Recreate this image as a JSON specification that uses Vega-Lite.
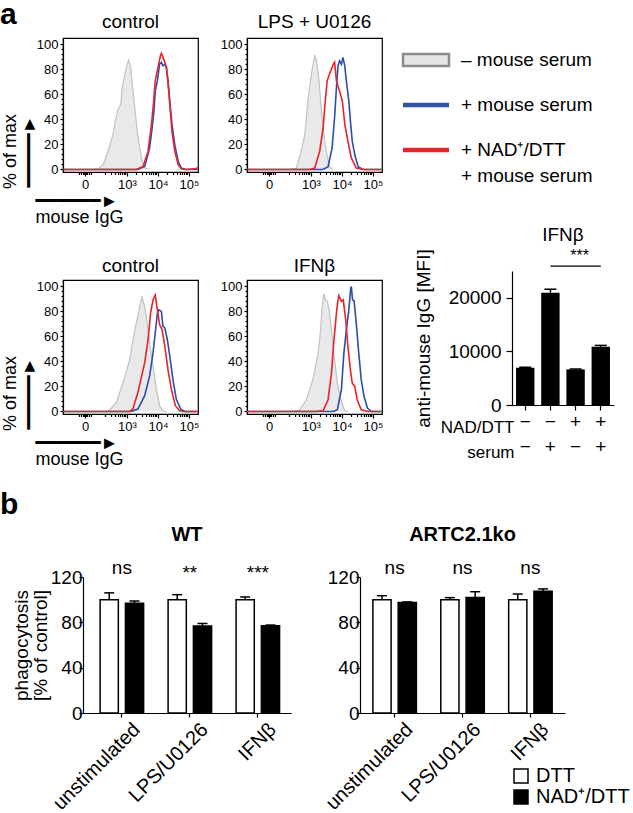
{
 "$schema": "https://vega.github.io/schema/vega-lite/v6.json",
 "background": "white",
 "padding": 0,
 "spacing": 21,
 "config": {
  "view": {"stroke": null},
  "font": "Liberation Sans",
  "axis": {"labelFont": "Liberation Sans", "titleFont": "Liberation Sans", "labelColor": "black", "titleColor": "black", "domainColor": "black", "tickColor": "black", "titleFontWeight": "normal", "grid": false, "domainWidth": 1.2, "tickWidth": 1.2, "labelOverlap": false, "labelSeparation": -30},
  "title": {"font": "Liberation Sans", "color": "black", "fontWeight": "normal", "fontSize": 19},
  "legend": {"labelFont": "Liberation Sans", "labelColor": "black"},
  "text": {"font": "Liberation Sans", "color": "black"}
 },
 "datasets": {
  "hist": [
   {"panel":"H1","series":"neg","log":1.85,"pct":0},{"panel":"H1","series":"neg","log":2.06,"pct":0.5},{"panel":"H1","series":"neg","log":2.23,"pct":3.9},{"panel":"H1","series":"neg","log":2.39,"pct":14.6},{"panel":"H1","series":"neg","log":2.55,"pct":28},{"panel":"H1","series":"neg","log":2.62,"pct":38.7},{"panel":"H1","series":"neg","log":2.71,"pct":48},{"panel":"H1","series":"neg","log":2.8,"pct":52},{"panel":"H1","series":"neg","log":2.84,"pct":65.4},{"panel":"H1","series":"neg","log":2.92,"pct":74.8},{"panel":"H1","series":"neg","log":2.98,"pct":81.5},{"panel":"H1","series":"neg","log":3.05,"pct":87.3},{"panel":"H1","series":"neg","log":3.12,"pct":81.5},{"panel":"H1","series":"neg","log":3.17,"pct":68.1},{"panel":"H1","series":"neg","log":3.25,"pct":49.4},{"panel":"H1","series":"neg","log":3.33,"pct":30.6},{"panel":"H1","series":"neg","log":3.41,"pct":17.3},{"panel":"H1","series":"neg","log":3.49,"pct":6.6},{"panel":"H1","series":"neg","log":3.59,"pct":0.8},{"panel":"H1","series":"neg","log":3.73,"pct":0},
   {"panel":"H1","series":"pos","log":0.94,"pct":0},{"panel":"H1","series":"pos","log":3.35,"pct":0},{"panel":"H1","series":"pos","log":3.57,"pct":2.5},{"panel":"H1","series":"pos","log":3.73,"pct":17.3},{"panel":"H1","series":"pos","log":3.81,"pct":33.3},{"panel":"H1","series":"pos","log":3.87,"pct":46.7},{"panel":"H1","series":"pos","log":3.91,"pct":62.7},{"panel":"H1","series":"pos","log":3.98,"pct":70.8},{"panel":"H1","series":"pos","log":4.05,"pct":84.1},{"panel":"H1","series":"pos","log":4.11,"pct":85.5},{"panel":"H1","series":"pos","log":4.16,"pct":82.8},{"panel":"H1","series":"pos","log":4.22,"pct":84.1},{"panel":"H1","series":"pos","log":4.27,"pct":81.5},{"panel":"H1","series":"pos","log":4.32,"pct":70.8},{"panel":"H1","series":"pos","log":4.38,"pct":54.7},{"panel":"H1","series":"pos","log":4.45,"pct":36},{"panel":"H1","series":"pos","log":4.54,"pct":19.9},{"panel":"H1","series":"pos","log":4.65,"pct":6.6},{"panel":"H1","series":"pos","log":4.75,"pct":1.2},{"panel":"H1","series":"pos","log":4.91,"pct":0},{"panel":"H1","series":"pos","log":5.28,"pct":0},
   {"panel":"H1","series":"nad","log":0.94,"pct":0},{"panel":"H1","series":"nad","log":3.3,"pct":0},{"panel":"H1","series":"nad","log":3.52,"pct":2.5},{"panel":"H1","series":"nad","log":3.68,"pct":14.6},{"panel":"H1","series":"nad","log":3.79,"pct":36},{"panel":"H1","series":"nad","log":3.86,"pct":54.7},{"panel":"H1","series":"nad","log":3.91,"pct":70.8},{"panel":"H1","series":"nad","log":4.0,"pct":81.5},{"panel":"H1","series":"nad","log":4.08,"pct":91.1},{"panel":"H1","series":"nad","log":4.11,"pct":92.7},{"panel":"H1","series":"nad","log":4.16,"pct":89.5},{"panel":"H1","series":"nad","log":4.22,"pct":85.7},{"panel":"H1","series":"nad","log":4.27,"pct":81.5},{"panel":"H1","series":"nad","log":4.32,"pct":70.8},{"panel":"H1","series":"nad","log":4.38,"pct":52},{"panel":"H1","series":"nad","log":4.45,"pct":30.6},{"panel":"H1","series":"nad","log":4.54,"pct":14.6},{"panel":"H1","series":"nad","log":4.65,"pct":3.9},{"panel":"H1","series":"nad","log":4.75,"pct":0.5},{"panel":"H1","series":"nad","log":4.86,"pct":0},{"panel":"H1","series":"nad","log":5.18,"pct":0.5},{"panel":"H1","series":"nad","log":5.28,"pct":1.5},
   {"panel":"H2","series":"neg","log":2.31,"pct":0},{"panel":"H2","series":"neg","log":2.53,"pct":1.2},{"panel":"H2","series":"neg","log":2.71,"pct":17.3},{"panel":"H2","series":"neg","log":2.8,"pct":28},{"panel":"H2","series":"neg","log":2.9,"pct":54.7},{"panel":"H2","series":"neg","log":3.01,"pct":76.1},{"panel":"H2","series":"neg","log":3.12,"pct":90.8},{"panel":"H2","series":"neg","log":3.17,"pct":87.9},{"panel":"H2","series":"neg","log":3.25,"pct":73.4},{"panel":"H2","series":"neg","log":3.31,"pct":54.7},{"panel":"H2","series":"neg","log":3.39,"pct":33.3},{"panel":"H2","series":"neg","log":3.49,"pct":14.6},{"panel":"H2","series":"neg","log":3.6,"pct":2.3},{"panel":"H2","series":"neg","log":3.71,"pct":0},
   {"panel":"H2","series":"nad","log":0.94,"pct":0},{"panel":"H2","series":"nad","log":2.96,"pct":0},{"panel":"H2","series":"nad","log":3.12,"pct":1.2},{"panel":"H2","series":"nad","log":3.28,"pct":14.6},{"panel":"H2","series":"nad","log":3.39,"pct":33.3},{"panel":"H2","series":"nad","log":3.46,"pct":54.7},{"panel":"H2","series":"nad","log":3.52,"pct":70.8},{"panel":"H2","series":"nad","log":3.58,"pct":75},{"panel":"H2","series":"nad","log":3.66,"pct":80.4},{"panel":"H2","series":"nad","log":3.72,"pct":84.1},{"panel":"H2","series":"nad","log":3.76,"pct":85.7},{"panel":"H2","series":"nad","log":3.82,"pct":70.8},{"panel":"H2","series":"nad","log":3.87,"pct":66.5},{"panel":"H2","series":"nad","log":3.92,"pct":62.7},{"panel":"H2","series":"nad","log":4.01,"pct":54.7},{"panel":"H2","series":"nad","log":4.09,"pct":36},{"panel":"H2","series":"nad","log":4.19,"pct":22.6},{"panel":"H2","series":"nad","log":4.3,"pct":9.2},{"panel":"H2","series":"nad","log":4.46,"pct":1.2},{"panel":"H2","series":"nad","log":4.68,"pct":0},{"panel":"H2","series":"nad","log":5.28,"pct":0},
   {"panel":"H2","series":"pos","log":0.94,"pct":0},{"panel":"H2","series":"pos","log":3.39,"pct":0},{"panel":"H2","series":"pos","log":3.55,"pct":2.3},{"panel":"H2","series":"pos","log":3.68,"pct":17.3},{"panel":"H2","series":"pos","log":3.76,"pct":41.3},{"panel":"H2","series":"pos","log":3.82,"pct":65.4},{"panel":"H2","series":"pos","log":3.87,"pct":82.5},{"panel":"H2","series":"pos","log":3.92,"pct":86.8},{"panel":"H2","series":"pos","log":3.98,"pct":84.1},{"panel":"H2","series":"pos","log":4.03,"pct":89.5},{"panel":"H2","series":"pos","log":4.09,"pct":82.5},{"panel":"H2","series":"pos","log":4.14,"pct":70.8},{"panel":"H2","series":"pos","log":4.22,"pct":54.7},{"panel":"H2","series":"pos","log":4.28,"pct":36},{"panel":"H2","series":"pos","log":4.33,"pct":22.6},{"panel":"H2","series":"pos","log":4.41,"pct":11.9},{"panel":"H2","series":"pos","log":4.52,"pct":2.3},{"panel":"H2","series":"pos","log":4.68,"pct":0},{"panel":"H2","series":"pos","log":5.28,"pct":0},
   {"panel":"H3","series":"neg","log":2.39,"pct":0},{"panel":"H3","series":"neg","log":2.66,"pct":7.2},{"panel":"H3","series":"neg","log":2.87,"pct":23.1},{"panel":"H3","series":"neg","log":3.09,"pct":41.5},{"panel":"H3","series":"neg","log":3.19,"pct":57.5},{"panel":"H3","series":"neg","log":3.3,"pct":70.7},{"panel":"H3","series":"neg","log":3.39,"pct":81.2},{"panel":"H3","series":"neg","log":3.48,"pct":92},{"panel":"H3","series":"neg","log":3.57,"pct":83.6},{"panel":"H3","series":"neg","log":3.65,"pct":70.7},{"panel":"H3","series":"neg","log":3.73,"pct":54.7},{"panel":"H3","series":"neg","log":3.84,"pct":36.3},{"panel":"H3","series":"neg","log":3.95,"pct":17.8},{"panel":"H3","series":"neg","log":4.05,"pct":4.6},{"panel":"H3","series":"neg","log":4.16,"pct":0.5},{"panel":"H3","series":"neg","log":4.27,"pct":0},
   {"panel":"H3","series":"pos","log":0.94,"pct":0},{"panel":"H3","series":"pos","log":3.14,"pct":0},{"panel":"H3","series":"pos","log":3.35,"pct":2},{"panel":"H3","series":"pos","log":3.57,"pct":12.6},{"panel":"H3","series":"pos","log":3.73,"pct":28.4},{"panel":"H3","series":"pos","log":3.84,"pct":46.9},{"panel":"H3","series":"pos","log":3.91,"pct":62.7},{"panel":"H3","series":"pos","log":3.98,"pct":78.6},{"panel":"H3","series":"pos","log":4.03,"pct":81.2},{"panel":"H3","series":"pos","log":4.11,"pct":79.9},{"panel":"H3","series":"pos","log":4.16,"pct":68},{"panel":"H3","series":"pos","log":4.22,"pct":66.7},{"panel":"H3","series":"pos","log":4.3,"pct":57.5},{"panel":"H3","series":"pos","log":4.38,"pct":44.2},{"panel":"H3","series":"pos","log":4.48,"pct":25.7},{"panel":"H3","series":"pos","log":4.59,"pct":9.9},{"panel":"H3","series":"pos","log":4.73,"pct":2},{"panel":"H3","series":"pos","log":4.86,"pct":0},{"panel":"H3","series":"pos","log":5.28,"pct":0},
   {"panel":"H3","series":"nad","log":0.94,"pct":0},{"panel":"H3","series":"nad","log":3.09,"pct":0},{"panel":"H3","series":"nad","log":3.19,"pct":2},{"panel":"H3","series":"nad","log":3.35,"pct":15.1},{"panel":"H3","series":"nad","log":3.57,"pct":39},{"panel":"H3","series":"nad","log":3.68,"pct":57.5},{"panel":"H3","series":"nad","log":3.76,"pct":78.6},{"panel":"H3","series":"nad","log":3.84,"pct":89.2},{"panel":"H3","series":"nad","log":3.91,"pct":93},{"panel":"H3","series":"nad","log":3.98,"pct":81.2},{"panel":"H3","series":"nad","log":4.05,"pct":69.4},{"panel":"H3","series":"nad","log":4.13,"pct":65.4},{"panel":"H3","series":"nad","log":4.22,"pct":52.1},{"panel":"H3","series":"nad","log":4.32,"pct":33.6},{"panel":"H3","series":"nad","log":4.43,"pct":17.8},{"panel":"H3","series":"nad","log":4.56,"pct":4.6},{"panel":"H3","series":"nad","log":4.7,"pct":0.5},{"panel":"H3","series":"nad","log":4.81,"pct":0},{"panel":"H3","series":"nad","log":5.28,"pct":0},
   {"panel":"H4","series":"neg","log":2.42,"pct":0},{"panel":"H4","series":"neg","log":2.63,"pct":1.4},{"panel":"H4","series":"neg","log":2.85,"pct":9.4},{"panel":"H4","series":"neg","log":3.06,"pct":25.4},{"panel":"H4","series":"neg","log":3.23,"pct":46.6},{"panel":"H4","series":"neg","log":3.31,"pct":65.2},{"panel":"H4","series":"neg","log":3.35,"pct":81.1},{"panel":"H4","series":"neg","log":3.41,"pct":94},{"panel":"H4","series":"neg","log":3.47,"pct":89.1},{"panel":"H4","series":"neg","log":3.53,"pct":87.8},{"panel":"H4","series":"neg","log":3.6,"pct":78.5},{"panel":"H4","series":"neg","log":3.68,"pct":59.8},{"panel":"H4","series":"neg","log":3.76,"pct":41.2},{"panel":"H4","series":"neg","log":3.85,"pct":22.7},{"panel":"H4","series":"neg","log":3.96,"pct":9.4},{"panel":"H4","series":"neg","log":4.09,"pct":0.5},{"panel":"H4","series":"neg","log":4.19,"pct":0},
   {"panel":"H4","series":"pos","log":0.94,"pct":0},{"panel":"H4","series":"pos","log":3.71,"pct":0},{"panel":"H4","series":"pos","log":3.85,"pct":1.4},{"panel":"H4","series":"pos","log":3.98,"pct":17.4},{"panel":"H4","series":"pos","log":4.06,"pct":46.6},{"panel":"H4","series":"pos","log":4.14,"pct":65.2},{"panel":"H4","series":"pos","log":4.22,"pct":81.1},{"panel":"H4","series":"pos","log":4.28,"pct":98.4},{"panel":"H4","series":"pos","log":4.3,"pct":99.7},{"panel":"H4","series":"pos","log":4.34,"pct":89.1},{"panel":"H4","series":"pos","log":4.39,"pct":88.5},{"panel":"H4","series":"pos","log":4.46,"pct":70.4},{"panel":"H4","series":"pos","log":4.54,"pct":46.6},{"panel":"H4","series":"pos","log":4.62,"pct":25.4},{"panel":"H4","series":"pos","log":4.71,"pct":12.1},{"panel":"H4","series":"pos","log":4.82,"pct":2.8},{"panel":"H4","series":"pos","log":4.95,"pct":0},{"panel":"H4","series":"pos","log":5.28,"pct":0},
   {"panel":"H4","series":"nad","log":0.94,"pct":0},{"panel":"H4","series":"nad","log":3.12,"pct":0},{"panel":"H4","series":"nad","log":3.39,"pct":0.5},{"panel":"H4","series":"nad","log":3.55,"pct":9.4},{"panel":"H4","series":"nad","log":3.66,"pct":30.6},{"panel":"H4","series":"nad","log":3.74,"pct":57.2},{"panel":"H4","series":"nad","log":3.82,"pct":78.5},{"panel":"H4","series":"nad","log":3.87,"pct":89.1},{"panel":"H4","series":"nad","log":3.9,"pct":92.5},{"panel":"H4","series":"nad","log":3.98,"pct":87.8},{"panel":"H4","series":"nad","log":4.04,"pct":89.1},{"panel":"H4","series":"nad","log":4.12,"pct":73.1},{"panel":"H4","series":"nad","log":4.19,"pct":51.9},{"panel":"H4","series":"nad","log":4.27,"pct":33.3},{"panel":"H4","series":"nad","log":4.33,"pct":22.7},{"panel":"H4","series":"nad","log":4.41,"pct":20},{"panel":"H4","series":"nad","log":4.49,"pct":9.4},{"panel":"H4","series":"nad","log":4.62,"pct":1.4},{"panel":"H4","series":"nad","log":4.84,"pct":0},{"panel":"H4","series":"nad","log":5.28,"pct":0}
  ],
  "leg": [
   {"key":"neg","label":"– mouse serum"},
   {"key":"pos","label":"+ mouse serum"},
   {"key":"nad","label":"+ NAD⁺/DTT\n+ mouse serum"}
  ],
  "mfi": [
   {"cond":"−|−","mfi":6950,"hi":7050},
   {"cond":"−|+","mfi":20950,"hi":21600},
   {"cond":"+|−","mfi":6640,"hi":6700},
   {"cond":"+|+","mfi":10880,"hi":11120}
  ],
  "phago": [
   {"geno":"WT","stim":"unstimulated","treat":"DTT","val":100,"hi":106},
   {"geno":"WT","stim":"unstimulated","treat":"NAD⁺/DTT","val":96.8,"hi":98.8},
   {"geno":"WT","stim":"LPS/U0126","treat":"DTT","val":100,"hi":104.4},
   {"geno":"WT","stim":"LPS/U0126","treat":"NAD⁺/DTT","val":76.7,"hi":79},
   {"geno":"WT","stim":"IFNβ","treat":"DTT","val":100,"hi":102.4},
   {"geno":"WT","stim":"IFNβ","treat":"NAD⁺/DTT","val":77,"hi":77.6},
   {"geno":"ARTC","stim":"unstimulated","treat":"DTT","val":100,"hi":103.5},
   {"geno":"ARTC","stim":"unstimulated","treat":"NAD⁺/DTT","val":97.5,"hi":98},
   {"geno":"ARTC","stim":"LPS/U0126","treat":"DTT","val":100,"hi":101.8},
   {"geno":"ARTC","stim":"LPS/U0126","treat":"NAD⁺/DTT","val":102,"hi":107},
   {"geno":"ARTC","stim":"IFNβ","treat":"DTT","val":100,"hi":105},
   {"geno":"ARTC","stim":"IFNβ","treat":"NAD⁺/DTT","val":107.5,"hi":109.5}
  ]
 },
 "vconcat": [
  {"spacing": -17, "hconcat": [
   {"width": 1, "height": 1, "data": {"values": []}, "mark": "point",
    "title": {"text": "a", "fontSize": 30, "fontWeight": "bold", "anchor": "start", "offset": -16, "baseline": "alphabetic"}},
   {"spacing": -2, "vconcat": [
    {"spacing": 8, "hconcat": [
     {"spacing": 17, "hconcat": [
      {"width": 135, "height": 134, "view": {"stroke": "black", "strokeWidth": 1.2},
       "title": {"text": "control", "fontSize": 19, "offset": -9, "baseline": "alphabetic"},
       "data": {"name": "hist"}, "transform": [{"filter": "datum.panel === 'H1'"}],
       "resolve": {"axis": {"x": "independent", "y": "independent"}},
       "layer": [
        {"transform": [{"filter": "datum.series === 'neg'"}], "mark": {"type": "area", "color": "#e9e9e9", "opacity": 1, "line": {"color": "#c2c2c2", "strokeWidth": 1.2}},
         "encoding": {
          "x": {"field": "log", "type": "quantitative", "scale": {"domain": [0.935, 5.29], "nice": false, "zero": false},
                "axis": {"orient": "bottom", "values": [1.645, 3, 4, 5], "labelExpr": "datum.value < 2 ? '0' : datum.value < 3.5 ? '10³' : datum.value < 4.5 ? '10⁴' : '10⁵'", "labelFontSize": 13, "labelPadding": 2, "tickSize": 4, "labelFlush": false,
                         "title": ["━━━━━━►", "mouse IgG"], "titleFontSize": 18, "titleFont": "Liberation Sans, DejaVu Sans", "titleAlign": "left", "titleX": -28, "titleY": 34, "titleBaseline": "alphabetic", "titleLineHeight": 16}},
          "y": {"field": "pct", "type": "quantitative", "scale": {"domain": [-2, 105], "nice": false, "zero": false},
                "axis": {"orient": "left", "values": [0, 20, 40, 60, 80, 100], "labelFontSize": 13, "labelPadding": 2, "tickSize": 3,
                         "title": ["% of max", "━━━━━►"], "titleFontSize": 18, "titleFont": "Liberation Sans, DejaVu Sans", "titleAlign": "center", "titleAngle": -90, "titleX": -48, "titleY": 113, "titleBaseline": "alphabetic", "titleLineHeight": 19}},
          "y2": {"datum": 0}}},
        {"transform": [{"filter": "datum.series === 'pos'"}], "mark": {"type": "line", "color": "#2b4fa8", "strokeWidth": 1.6},
         "encoding": {
          "x": {"field": "log", "type": "quantitative", "scale": {"domain": [0.935, 5.29], "nice": false, "zero": false},
                "axis": {"orient": "bottom", "values": [1.45,1.52,1.58,1.62,1.67,1.71,1.77,1.84,2.3,2.48,2.6,2.7,2.78,2.85,2.9,2.95,3.3,3.48,3.6,3.7,3.78,3.85,3.9,3.95,4.3,4.48,4.6,4.7,4.78,4.85,4.9,4.95], "labels": false, "domain": false, "tickSize": 2.5, "title": null}},
          "y": {"field": "pct", "type": "quantitative", "scale": {"domain": [-2, 105], "nice": false, "zero": false},
                "axis": {"orient": "left", "values": [4,8,12,16,24,28,32,36,44,48,52,56,64,68,72,76,84,88,92,96], "labels": false, "domain": false, "tickSize": 2, "title": null}}}},
        {"transform": [{"filter": "datum.series === 'nad'"}], "mark": {"type": "line", "color": "#e8232b", "strokeWidth": 1.6},
         "encoding": {
          "x": {"field": "log", "type": "quantitative", "scale": {"domain": [0.935, 5.29], "nice": false, "zero": false}, "axis": null},
          "y": {"field": "pct", "type": "quantitative", "scale": {"domain": [-2, 105], "nice": false, "zero": false}, "axis": null}}}
       ]},
      {"width": 135, "height": 134, "view": {"stroke": "black", "strokeWidth": 1.2},
       "title": {"text": "LPS + U0126", "fontSize": 19, "offset": -9, "baseline": "alphabetic"},
       "data": {"name": "hist"}, "transform": [{"filter": "datum.panel === 'H2'"}],
       "resolve": {"axis": {"x": "independent", "y": "independent"}},
       "layer": [
        {"transform": [{"filter": "datum.series === 'neg'"}], "mark": {"type": "area", "color": "#e9e9e9", "opacity": 1, "line": {"color": "#c2c2c2", "strokeWidth": 1.2}},
         "encoding": {
          "x": {"field": "log", "type": "quantitative", "scale": {"domain": [0.935, 5.29], "nice": false, "zero": false},
                "axis": {"orient": "bottom", "values": [1.645, 3, 4, 5], "labelExpr": "datum.value < 2 ? '0' : datum.value < 3.5 ? '10³' : datum.value < 4.5 ? '10⁴' : '10⁵'", "labelFontSize": 13, "labelPadding": 2, "tickSize": 4, "labelFlush": false, "title": null}},
          "y": {"field": "pct", "type": "quantitative", "scale": {"domain": [-2, 105], "nice": false, "zero": false},
                "axis": {"orient": "left", "values": [0, 20, 40, 60, 80, 100], "labelFontSize": 13, "labelPadding": 2, "tickSize": 3, "title": null}},
          "y2": {"datum": 0}}},
        {"transform": [{"filter": "datum.series === 'pos'"}], "mark": {"type": "line", "color": "#2b4fa8", "strokeWidth": 1.6},
         "encoding": {
          "x": {"field": "log", "type": "quantitative", "scale": {"domain": [0.935, 5.29], "nice": false, "zero": false},
                "axis": {"orient": "bottom", "values": [1.45,1.52,1.58,1.62,1.67,1.71,1.77,1.84,2.3,2.48,2.6,2.7,2.78,2.85,2.9,2.95,3.3,3.48,3.6,3.7,3.78,3.85,3.9,3.95,4.3,4.48,4.6,4.7,4.78,4.85,4.9,4.95], "labels": false, "domain": false, "tickSize": 2.5, "title": null}},
          "y": {"field": "pct", "type": "quantitative", "scale": {"domain": [-2, 105], "nice": false, "zero": false},
                "axis": {"orient": "left", "values": [4,8,12,16,24,28,32,36,44,48,52,56,64,68,72,76,84,88,92,96], "labels": false, "domain": false, "tickSize": 2, "title": null}}}},
        {"transform": [{"filter": "datum.series === 'nad'"}], "mark": {"type": "line", "color": "#e8232b", "strokeWidth": 1.6},
         "encoding": {
          "x": {"field": "log", "type": "quantitative", "scale": {"domain": [0.935, 5.29], "nice": false, "zero": false}, "axis": null},
          "y": {"field": "pct", "type": "quantitative", "scale": {"domain": [-2, 105], "nice": false, "zero": false}, "axis": null}}}
       ]}
     ]},
     {"width": 46, "height": 134, "data": {"name": "leg"},
      "encoding": {"y": {"field": "key", "type": "nominal", "scale": {"type": "point", "domain": ["neg", "pos", "nad"], "padding": 0.49}, "axis": null}},
      "layer": [
       {"transform": [{"filter": "datum.key === 'neg'"}], "mark": {"type": "point", "shape": "M-1,-0.26L1,-0.26L1,0.26L-1,0.26Z", "size": 2116, "filled": true, "fill": "#e6e6e6", "stroke": "#8c8c8c", "strokeWidth": 2.5, "opacity": 1}},
       {"transform": [{"filter": "datum.key !== 'neg'"}], "mark": {"type": "point", "shape": "stroke", "size": 2116, "filled": false, "strokeWidth": 4.5, "opacity": 1},
        "encoding": {"stroke": {"field": "key", "type": "nominal", "scale": {"domain": ["pos", "nad"], "range": ["#3552a3", "#e3262b"]}, "legend": null}}},
       {"mark": {"type": "text", "align": "left", "dx": 35, "fontSize": 19, "lineBreak": "\n", "lineHeight": 26, "baseline": "middle", "color": "black"},
        "encoding": {"text": {"field": "label"}}}
      ]}
    ]},
    {"spacing": 28, "hconcat": [
     {"spacing": -16, "vconcat": [
      {"width": 1, "height": 1, "data": {"values": []}, "mark": "point"},
      {"spacing": 17, "hconcat": [
       {"width": 135, "height": 134, "view": {"stroke": "black", "strokeWidth": 1.2},
        "title": {"text": "control", "fontSize": 19, "offset": -11, "baseline": "alphabetic"},
        "data": {"name": "hist"}, "transform": [{"filter": "datum.panel === 'H3'"}],
        "resolve": {"axis": {"x": "independent", "y": "independent"}},
        "layer": [
         {"transform": [{"filter": "datum.series === 'neg'"}], "mark": {"type": "area", "color": "#e9e9e9", "opacity": 1, "line": {"color": "#c2c2c2", "strokeWidth": 1.2}},
          "encoding": {
           "x": {"field": "log", "type": "quantitative", "scale": {"domain": [0.935, 5.29], "nice": false, "zero": false},
                 "axis": {"orient": "bottom", "values": [1.645, 3, 4, 5], "labelExpr": "datum.value < 2 ? '0' : datum.value < 3.5 ? '10³' : datum.value < 4.5 ? '10⁴' : '10⁵'", "labelFontSize": 13, "labelPadding": 2, "tickSize": 4, "labelFlush": false,
                          "title": ["━━━━━━►", "mouse IgG"], "titleFontSize": 18, "titleFont": "Liberation Sans, DejaVu Sans", "titleAlign": "left", "titleX": -28, "titleY": 34, "titleBaseline": "alphabetic", "titleLineHeight": 16}},
           "y": {"field": "pct", "type": "quantitative", "scale": {"domain": [-2, 105], "nice": false, "zero": false},
                 "axis": {"orient": "left", "values": [0, 20, 40, 60, 80, 100], "labelFontSize": 13, "labelPadding": 2, "tickSize": 3,
                          "title": ["% of max", "━━━━━►"], "titleFontSize": 18, "titleFont": "Liberation Sans, DejaVu Sans", "titleAlign": "center", "titleAngle": -90, "titleX": -48, "titleY": 113, "titleBaseline": "alphabetic", "titleLineHeight": 19}},
           "y2": {"datum": 0}}},
         {"transform": [{"filter": "datum.series === 'pos'"}], "mark": {"type": "line", "color": "#2b4fa8", "strokeWidth": 1.6},
          "encoding": {
           "x": {"field": "log", "type": "quantitative", "scale": {"domain": [0.935, 5.29], "nice": false, "zero": false},
                 "axis": {"orient": "bottom", "values": [1.45,1.52,1.58,1.62,1.67,1.71,1.77,1.84,2.3,2.48,2.6,2.7,2.78,2.85,2.9,2.95,3.3,3.48,3.6,3.7,3.78,3.85,3.9,3.95,4.3,4.48,4.6,4.7,4.78,4.85,4.9,4.95], "labels": false, "domain": false, "tickSize": 2.5, "title": null}},
           "y": {"field": "pct", "type": "quantitative", "scale": {"domain": [-2, 105], "nice": false, "zero": false},
                 "axis": {"orient": "left", "values": [4,8,12,16,24,28,32,36,44,48,52,56,64,68,72,76,84,88,92,96], "labels": false, "domain": false, "tickSize": 2, "title": null}}}},
         {"transform": [{"filter": "datum.series === 'nad'"}], "mark": {"type": "line", "color": "#e8232b", "strokeWidth": 1.6},
          "encoding": {
           "x": {"field": "log", "type": "quantitative", "scale": {"domain": [0.935, 5.29], "nice": false, "zero": false}, "axis": null},
           "y": {"field": "pct", "type": "quantitative", "scale": {"domain": [-2, 105], "nice": false, "zero": false}, "axis": null}}}
        ]},
       {"width": 135, "height": 134, "view": {"stroke": "black", "strokeWidth": 1.2},
        "title": {"text": "IFNβ", "fontSize": 19, "offset": -11, "baseline": "alphabetic"},
        "data": {"name": "hist"}, "transform": [{"filter": "datum.panel === 'H4'"}],
        "resolve": {"axis": {"x": "independent", "y": "independent"}},
        "layer": [
         {"transform": [{"filter": "datum.series === 'neg'"}], "mark": {"type": "area", "color": "#e9e9e9", "opacity": 1, "line": {"color": "#c2c2c2", "strokeWidth": 1.2}},
          "encoding": {
           "x": {"field": "log", "type": "quantitative", "scale": {"domain": [0.935, 5.29], "nice": false, "zero": false},
                 "axis": {"orient": "bottom", "values": [1.645, 3, 4, 5], "labelExpr": "datum.value < 2 ? '0' : datum.value < 3.5 ? '10³' : datum.value < 4.5 ? '10⁴' : '10⁵'", "labelFontSize": 13, "labelPadding": 2, "tickSize": 4, "labelFlush": false, "title": null}},
           "y": {"field": "pct", "type": "quantitative", "scale": {"domain": [-2, 105], "nice": false, "zero": false},
                 "axis": {"orient": "left", "values": [0, 20, 40, 60, 80, 100], "labelFontSize": 13, "labelPadding": 2, "tickSize": 3, "title": null}},
           "y2": {"datum": 0}}},
         {"transform": [{"filter": "datum.series === 'pos'"}], "mark": {"type": "line", "color": "#2b4fa8", "strokeWidth": 1.6},
          "encoding": {
           "x": {"field": "log", "type": "quantitative", "scale": {"domain": [0.935, 5.29], "nice": false, "zero": false},
                 "axis": {"orient": "bottom", "values": [1.45,1.52,1.58,1.62,1.67,1.71,1.77,1.84,2.3,2.48,2.6,2.7,2.78,2.85,2.9,2.95,3.3,3.48,3.6,3.7,3.78,3.85,3.9,3.95,4.3,4.48,4.6,4.7,4.78,4.85,4.9,4.95], "labels": false, "domain": false, "tickSize": 2.5, "title": null}},
           "y": {"field": "pct", "type": "quantitative", "scale": {"domain": [-2, 105], "nice": false, "zero": false},
                 "axis": {"orient": "left", "values": [4,8,12,16,24,28,32,36,44,48,52,56,64,68,72,76,84,88,92,96], "labels": false, "domain": false, "tickSize": 2, "title": null}}}},
         {"transform": [{"filter": "datum.series === 'nad'"}], "mark": {"type": "line", "color": "#e8232b", "strokeWidth": 1.6},
          "encoding": {
           "x": {"field": "log", "type": "quantitative", "scale": {"domain": [0.935, 5.29], "nice": false, "zero": false}, "axis": null},
           "y": {"field": "pct", "type": "quantitative", "scale": {"domain": [-2, 105], "nice": false, "zero": false}, "axis": null}}}
        ]}
      ]}
     ]},
     {"width": 102, "height": 134,
      "title": {"text": "IFNβ", "fontSize": 19, "offset": -12, "baseline": "alphabetic"},
      "data": {"name": "mfi"},
      "encoding": {
       "x": {"field": "cond", "type": "nominal", "scale": {"domain": ["−|−", "−|+", "+|−", "+|+"], "paddingInner": 0.27, "paddingOuter": 0.16},
             "axis": {"labelExpr": "split(datum.value, '|')", "labelAngle": 0, "labelFontSize": 19, "labelLineHeight": 25, "labelPadding": 2, "labelBaseline": "top", "tickSize": 5,
                      "title": ["NAD/DTT", "serum"], "titleFontSize": 17, "titleLineHeight": 25, "titleAlign": "right", "titleX": 2, "titleY": 27, "titleBaseline": "alphabetic"}}
      },
      "layer": [
       {"mark": {"type": "bar", "color": "black", "opacity": 1},
        "encoding": {"y": {"field": "mfi", "type": "quantitative", "scale": {"domain": [0, 25000], "nice": false},
                           "axis": {"values": [0, 5000, 10000, 15000, 20000, 25000], "format": "d", "labelFontSize": 19, "tickSize": 6, "labelPadding": 5, "labelOverlap": false, "labelSeparation": -30, "title": "anti-mouse IgG [MFI]", "titleFontSize": 19, "titlePadding": 15}}}},
       {"mark": {"type": "rule", "color": "black", "strokeWidth": 1.5}, "encoding": {"y": {"field": "mfi", "type": "quantitative"}, "y2": {"field": "hi"}}},
       {"mark": {"type": "tick", "color": "black", "thickness": 1.5, "size": 12, "opacity": 1}, "encoding": {"y": {"field": "hi", "type": "quantitative"}}},
       {"data": {"values": [{"from": "−|+", "to": "+|+"}]}, "mark": {"type": "rule", "color": "black", "strokeWidth": 1.2},
        "encoding": {"x": {"field": "from", "type": "nominal"}, "x2": {"field": "to"}, "y": {"datum": 25900}}},
       {"data": {"values": [{"cond": "+|−", "sig": "***"}]}, "mark": {"type": "text", "fontSize": 16, "baseline": "alphabetic", "color": "black", "dx": 4},
        "encoding": {"y": {"datum": 26900}, "text": {"field": "sig"}}}
      ]}
    ]}
   ]}
  ]},
  {"spacing": -7, "hconcat": [
   {"width": 1, "height": 1, "data": {"values": []}, "mark": "point",
    "title": {"text": "b", "fontSize": 30, "fontWeight": "bold", "anchor": "start", "offset": 33, "baseline": "alphabetic"}},
   {"spacing": 30, "resolve": {"scale": {"fill": "independent"}}, "hconcat": [
    {"width": 208, "height": 136,
     "title": {"text": "WT", "fontSize": 20, "fontWeight": "bold", "offset": -2, "baseline": "alphabetic"},
     "data": {"name": "phago"}, "transform": [{"filter": "datum.geno === 'WT'"}],
     "encoding": {
      "x": {"field": "stim", "type": "nominal", "scale": {"domain": ["unstimulated", "LPS/U0126", "IFNβ"], "paddingInner": 0.36, "paddingOuter": 0.21, "align": 0.6},
            "axis": {"labelAngle": -45, "labelFontSize": 20, "tickSize": 4, "labelPadding": 2, "labelOffset": 8, "title": null}}
     },
     "layer": [
      {"mark": {"type": "bar", "stroke": "black", "strokeWidth": 1.5, "opacity": 1},
       "encoding": {
        "xOffset": {"field": "treat", "type": "nominal", "scale": {"domain": ["DTT", "NAD⁺/DTT"], "paddingInner": 0.28}},
        "y": {"field": "val", "type": "quantitative", "scale": {"domain": [0, 120], "nice": false},
              "axis": {"values": [0, 20, 40, 60, 80, 100, 120], "labelFontSize": 19, "tickSize": 4, "labelPadding": -3, "labelOverlap": false, "labelSeparation": -30, "title": ["phagocytosis", "[% of control]"], "titleFontSize": 19, "titleLineHeight": 19, "titlePadding": 0}},
        "fill": {"field": "treat", "type": "nominal", "scale": {"domain": ["DTT", "NAD⁺/DTT"], "range": ["white", "black"]}, "legend": null}}},
      {"mark": {"type": "rule", "color": "black", "strokeWidth": 1.5},
       "encoding": {"xOffset": {"field": "treat", "type": "nominal"}, "y": {"field": "val", "type": "quantitative"}, "y2": {"field": "hi"}}},
      {"mark": {"type": "tick", "color": "black", "thickness": 1.5, "size": 10, "opacity": 1},
       "encoding": {"xOffset": {"field": "treat", "type": "nominal"}, "y": {"field": "hi", "type": "quantitative"}}},
      {"data": {"values": [{"stim": "unstimulated", "sig": "ns"}]},
       "mark": {"type": "text", "fontSize": 19, "baseline": "alphabetic", "color": "black"},
       "encoding": {"y": {"datum": 122.7}, "text": {"field": "sig"}}},
      {"data": {"values": [{"stim": "LPS/U0126", "sig": "**"}, {"stim": "IFNβ", "sig": "***"}]},
       "mark": {"type": "text", "fontSize": 19, "baseline": "alphabetic", "color": "black"},
       "encoding": {"y": {"datum": 118}, "text": {"field": "sig"}}}
     ]},
    {"width": 205, "height": 136,
     "title": {"text": "ARTC2.1ko", "fontSize": 20, "fontWeight": "bold", "offset": -2, "baseline": "alphabetic"},
     "data": {"name": "phago"}, "transform": [{"filter": "datum.geno === 'ARTC'"}],
     "encoding": {
      "x": {"field": "stim", "type": "nominal", "scale": {"domain": ["unstimulated", "LPS/U0126", "IFNβ"], "paddingInner": 0.36, "paddingOuter": 0.19, "align": 0.5},
            "axis": {"labelAngle": -45, "labelFontSize": 20, "tickSize": 4, "labelPadding": 2, "labelOffset": 8, "title": null}}
     },
     "layer": [
      {"mark": {"type": "bar", "stroke": "black", "strokeWidth": 1.5, "opacity": 1},
       "encoding": {
        "xOffset": {"field": "treat", "type": "nominal", "scale": {"domain": ["DTT", "NAD⁺/DTT"], "paddingInner": 0.28}},
        "y": {"field": "val", "type": "quantitative", "scale": {"domain": [0, 120], "nice": false},
              "axis": {"values": [0, 20, 40, 60, 80, 100, 120], "labelFontSize": 19, "tickSize": 4, "labelPadding": -3, "labelOverlap": false, "labelSeparation": -30, "title": null}},
        "fill": {"field": "treat", "type": "nominal", "scale": {"domain": ["DTT", "NAD⁺/DTT"], "range": ["white", "black"]},
                 "legend": {"orient": "none", "legendX": 151, "legendY": 189, "title": null, "symbolType": "square", "symbolSize": 196, "symbolStrokeColor": "black", "symbolStrokeWidth": 1.5, "symbolOpacity": 1, "labelFontSize": 20, "labelOffset": 5, "rowPadding": 1, "padding": 0, "direction": "vertical"}}}},
      {"mark": {"type": "rule", "color": "black", "strokeWidth": 1.5},
       "encoding": {"xOffset": {"field": "treat", "type": "nominal"}, "y": {"field": "val", "type": "quantitative"}, "y2": {"field": "hi"}}},
      {"mark": {"type": "tick", "color": "black", "thickness": 1.5, "size": 10, "opacity": 1},
       "encoding": {"xOffset": {"field": "treat", "type": "nominal"}, "y": {"field": "hi", "type": "quantitative"}}},
      {"data": {"values": [{"stim": "unstimulated", "sig": "ns"}, {"stim": "LPS/U0126", "sig": "ns"}, {"stim": "IFNβ", "sig": "ns"}]},
       "mark": {"type": "text", "fontSize": 19, "baseline": "alphabetic", "color": "black"},
       "encoding": {"y": {"datum": 122.7}, "text": {"field": "sig"}}}
     ]}
   ]}
  ]}
 ]
}
